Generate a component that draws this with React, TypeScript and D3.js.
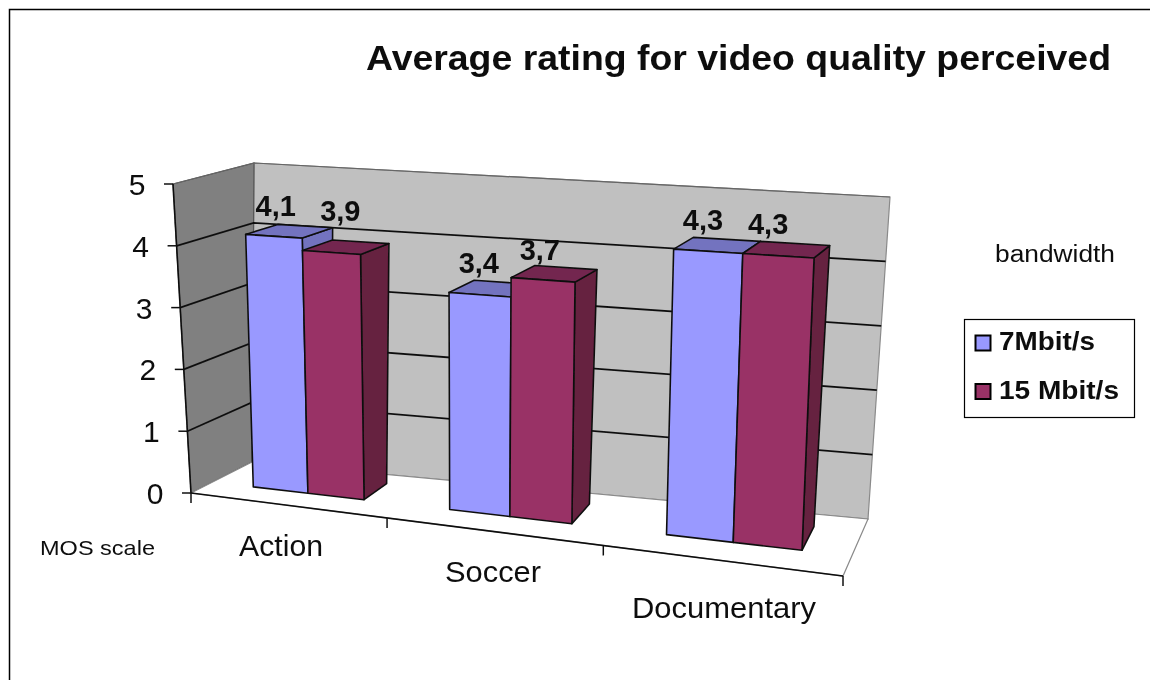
import React from "react";
import * as d3 from "d3";

const categories = ["Action", "Soccer", "Documentary"];
const seriesNames = ["7Mbit/s", "15 Mbit/s"];
const rate7 = [4.1, 3.4, 4.3];
const rate15 = [3.9, 3.7, 4.3];
const yTicks = [0, 1, 2, 3, 4, 5];
const title = "Average rating for video quality perceived";
const faces = [
  { front: "#9999FF", top: "#7373BF", side: "#7373BF" },
  { front: "#993366", top: "#732650", side: "#66203F" },
];
// label nudges (dx, dy) from the bar's top-front centre
const labelNudge7 = [[2, -30], [-1, -32], [-5, -31]];
const labelNudge15 = [[9, -42], [-3, -30], [-10, -32]];
const catLabelPos = [[281, 546], [493, 572], [724, 608]];
const catLabelWidth = [84, 96, 184];
const legendTextWidth = [96, 120];

type Pt = [number, number];
const FBL: Pt = [191, 493], FBR: Pt = [843, 576], FTL: Pt = [173, 184], FTR: Pt = [856, 222];
const BBL: Pt = [252, 462], BBR: Pt = [868, 519], BTL: Pt = [254, 163], BTR: Pt = [890, 197];
const K = 0.86;

const lerp = (a: Pt, b: Pt, t: number): Pt => [a[0] + (b[0] - a[0]) * t, a[1] + (b[1] - a[1]) * t];
const warp = (u: number) => (K * u) / (1 + (K - 1) * u);
const yScale = d3.scaleLinear().domain([0, 5]).range([0, 1]);

function project(u: number, val: number, w: number): Pt {
  const s = warp(u), t = yScale(val);
  const f = lerp(lerp(FBL, FBR, s), lerp(FTL, FTR, s), t);
  const b = lerp(lerp(BBL, BBR, s), lerp(BTL, BTR, s), t);
  return lerp(f, b, w);
}
const W0 = 0.35, W1 = 0.78;
const band = d3.scaleBand<string>().domain(categories).range([0.003, 1.003]).paddingInner(0.424).paddingOuter(0.212);
const inner = d3.scaleBand<number>().domain([0, 1]).range([0, band.bandwidth()]);
const poly = (pts: Pt[]) => d3.line()(pts as [number, number][]) + "Z";

export default function App() {
  const series = [rate7, rate15];
  const nudges = [labelNudge7, labelNudge15];
  const ff = "'Liberation Sans', Arial, sans-serif";
  const black = "#111";
  const stretch = "spacingAndGlyphs";
  return (
    <svg width={1150} height={680} style={{ position: "absolute", left: 0, top: 0, background: "#fff" }} fontFamily={ff}>
      <defs>
        <filter id="soft" x="-5%" y="-5%" width="110%" height="110%">
          <feGaussianBlur stdDeviation="0.45" />
        </filter>
      </defs>
      <g filter="url(#soft)">
        <path d="M9.5,680V9.5H1150" fill="none" stroke="#000" strokeWidth={1.5} />
        <text x={366} y={70} fontSize={35} fontWeight={700} fill={black} textLength={745} lengthAdjust={stretch}>{title}</text>

        <path d={poly([BTL, BTR, BBR, BBL])} fill="#C0C0C0" stroke="#8a8a8a" strokeWidth={1.2} />
        <path d={poly([FTL, BTL, BBL, FBL])} fill="#808080" stroke="#555" strokeWidth={1.2} />
        <path d={poly([FBL, BBL, BBR, FBR])} fill="#fff" stroke="#8a8a8a" strokeWidth={1.2} />

        {yTicks.slice(1).map((v) => (
          <path key={v} d={d3.line()([project(0, v, 0), project(0, v, 1), project(1, v, 1)])!} fill="none"
            stroke={v === 5 ? "#666" : black} strokeWidth={v === 5 ? 1.2 : 1.8} />
        ))}

        <path d={d3.line()([FTL, FBL])!} stroke={black} strokeWidth={1.6} fill="none" />
        <path d={d3.line()([FBL, FBR])!} stroke={black} strokeWidth={1.6} fill="none" />
        {yTicks.map((v) => {
          const p = project(0, v, 0);
          return (
            <g key={v}>
              <line x1={p[0] - 9} x2={p[0]} y1={p[1]} y2={p[1]} stroke={black} strokeWidth={1.5} />
              <text x={p[0] - 36} y={p[1] + 11} fontSize={30} textAnchor="middle" fill={black}>{v}</text>
            </g>
          );
        })}
        {[0, 1, 2, 3].map((i) => {
          const p = project(i / 3, 0, 0);
          return <line key={i} x1={p[0]} x2={p[0]} y1={p[1]} y2={p[1] + 10} stroke={black} strokeWidth={1.5} />;
        })}

        {categories.map((c, ci) => {
          const u0 = band(c)!;
          return series.map((vals, si) => {
            const a = u0 + inner(si)!, b = a + inner.bandwidth(), v = vals[ci];
            const f = faces[si];
            const line = { stroke: black, strokeWidth: 1.6, strokeLinejoin: "round" as const };
            return (
              <g key={c + si}>
                <path d={poly([project(b, 0, W0), project(b, 0, W1), project(b, v, W1), project(b, v, W0)])} fill={f.side} {...line} />
                <path d={poly([project(a, v, W0), project(b, v, W0), project(b, v, W1), project(a, v, W1)])} fill={f.top} {...line} />
                <path d={poly([project(a, 0, W0), project(b, 0, W0), project(b, v, W0), project(a, v, W0)])} fill={f.front} {...line} />
              </g>
            );
          });
        })}

        {categories.map((c, ci) =>
          series.map((vals, si) => {
            const u = band(c)! + inner(si)! + inner.bandwidth() / 2;
            const p = project(u, vals[ci], W0);
            const [dx, dy] = nudges[si][ci];
            return (
              <text key={c + si} x={p[0] + dx} y={p[1] + dy + 10} fontSize={29} fontWeight={700} textAnchor="middle" fill={black}
                stroke="none">{vals[ci].toFixed(1).replace(".", ",")}</text>
            );
          })
        )}

        {categories.map((c, i) => (
          <text key={c} x={catLabelPos[i][0]} y={catLabelPos[i][1] + 10} fontSize={29} textAnchor="middle" fill={black}
            textLength={catLabelWidth[i]} lengthAdjust={stretch}>{c}</text>
        ))}

        <text x={40} y={555} fontSize={21} fill={black} textLength={115} lengthAdjust={stretch}>MOS scale</text>
        <text x={995} y={262} fontSize={23} fill={black} textLength={120} lengthAdjust={stretch}>bandwidth</text>

        <rect x={964.5} y={319.5} width={170} height={98} fill="#fff" stroke="#000" strokeWidth={1.2} />
        {seriesNames.map((n, i) => (
          <g key={n}>
            <rect x={975.5} y={335.5 + i * 48.5} width={15} height={15} fill={faces[i].front} stroke="#000" strokeWidth={2} />
            <text x={999} y={350 + i * 48.5} fontSize={26} fontWeight={700} fill={black}
              textLength={legendTextWidth[i]} lengthAdjust={stretch}>{n}</text>
          </g>
        ))}
      </g>
    </svg>
  );
}
